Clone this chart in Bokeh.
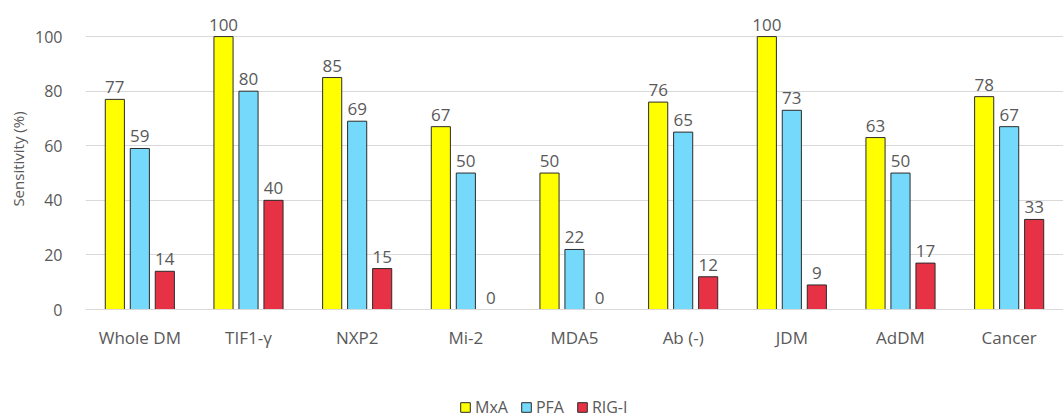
from bokeh.plotting import figure
from bokeh.layouts import column
from bokeh.models import ColumnDataSource, FactorRange, Range1d, Legend, LegendItem, FixedTicker, Title
from bokeh.transform import dodge
from bokeh.core.properties import value
from bokeh.embed import file_html
from bokeh.resources import INLINE

categories = ["Whole DM", "TIF1-\u03b3", "NXP2", "Mi-2", "MDA5", "Ab (-)", "JDM", "AdDM", "Cancer"]
mxa = [77, 100, 85, 67, 50, 76, 100, 63, 78]
pfa = [59, 80, 69, 50, 22, 65, 73, 50, 67]
rigi = [14, 40, 15, 0, 0, 12, 9, 17, 33]
y_ticks = [0, 20, 40, 60, 80, 100]

FONT = "Open Sans"
TXT = "#595959"

src = ColumnDataSource(dict(
    cat=categories, mxa=mxa, pfa=pfa, rigi=rigi,
    mxa_l=[str(v) for v in mxa], pfa_l=[str(v) for v in pfa], rigi_l=[str(v) for v in rigi],
))

p = figure(x_range=FactorRange(*categories), y_range=Range1d(0, 110.3),
           frame_width=978, frame_height=301, output_backend="svg", toolbar_location=None,
           min_border_left=84, min_border_right=0, min_border_top=8, min_border_bottom=60)
p.outline_line_color = None

off = 0.23
bw = 0.176
series = [("mxa", "MxA", "#FFFF00", -off), ("pfa", "PFA", "#75D9FB", 0.0), ("rigi", "RIG-I", "#E63244", off)]
for key, name, col, o in series:
    p.vbar(x=dodge("cat", o, range=p.x_range), top=key, width=bw, source=src,
           fill_color=col, line_color="#2b2b2b", line_width=1)
    p.text(x=dodge("cat", o, range=p.x_range), y=key, text=key + "_l", source=src,
           text_align="center", text_baseline="bottom", y_offset=-6,
           text_font=value(FONT), text_font_size="17px", text_color=TXT)

p.yaxis.ticker = FixedTicker(ticks=y_ticks)
p.yaxis.axis_line_color = None
p.yaxis.major_tick_line_color = None
p.yaxis.minor_tick_line_color = None
p.yaxis.major_label_text_font = FONT
p.yaxis.major_label_text_font_size = "16px"
p.yaxis.major_label_text_color = TXT
p.yaxis.major_label_standoff = 17

ytitle = Title(text="Sensitivity (%)", align="center", text_font=FONT, text_font_size="15px",
               text_font_style="normal", text_color=TXT, standoff=10)
p.add_layout(ytitle, "left")

p.xaxis.axis_line_color = "#d9d9d9"
p.xaxis.major_tick_line_color = None
p.xaxis.minor_tick_line_color = None
p.xaxis.major_label_text_font = FONT
p.xaxis.major_label_text_font_size = "17px"
p.xaxis.major_label_text_color = TXT
p.xaxis.major_label_standoff = 10

p.xgrid.grid_line_color = None
p.ygrid.grid_line_color = "#d9d9d9"
p.ygrid.ticker = FixedTicker(ticks=y_ticks)

# legend strip below the chart
lg = figure(width=1062, height=51, output_backend="svg", toolbar_location=None,
            x_range=Range1d(0, 1), y_range=Range1d(0, 1),
            x_axis_location=None, y_axis_location=None,
            min_border_left=0, min_border_right=0, min_border_top=0, min_border_bottom=0)
lg.outline_line_color = None
lg.xgrid.visible = False
lg.ygrid.visible = False
items = []
for key, name, col, o in series:
    r = lg.vbar(x=[-10], top=[-10], bottom=[-11], width=0.1,
                fill_color=col, line_color="#2b2b2b", line_width=1)
    items.append(LegendItem(label=name, renderers=[r]))
legend = Legend(items=items, orientation="horizontal", location=(374, 2),
                label_text_font=FONT, label_text_font_size="16px", label_text_color=TXT,
                glyph_width=12, glyph_height=12, spacing=12, label_standoff=4,
                border_line_color=None, background_fill_alpha=0, padding=2, margin=0)
lg.add_layout(legend, "center")

layout = column(p, lg, spacing=0)
open("out.html", "w").write(file_html(layout, INLINE))
